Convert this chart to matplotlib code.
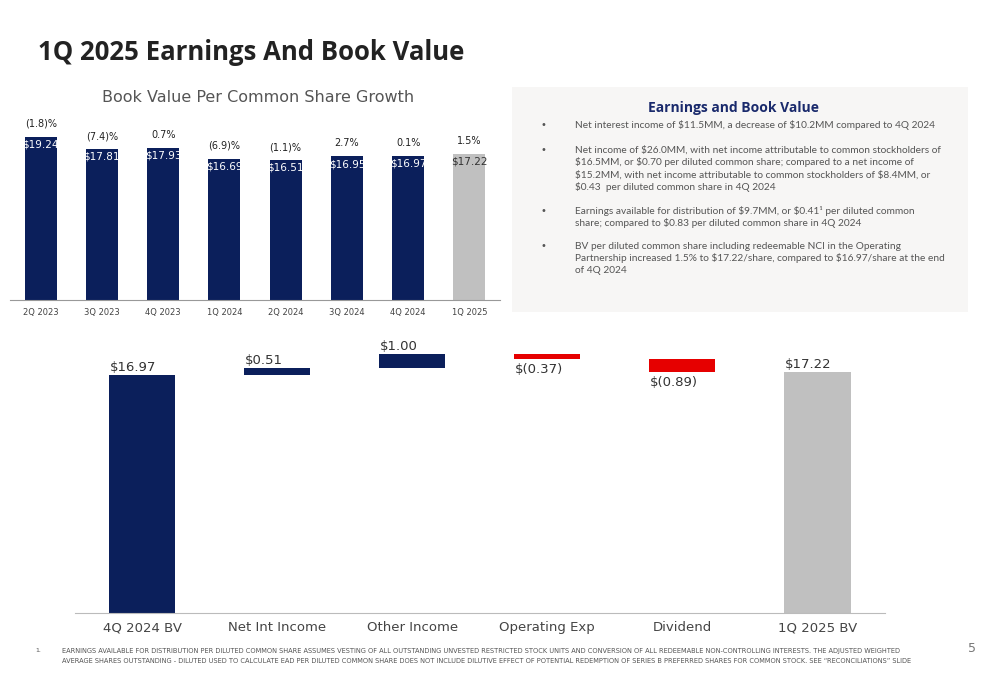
import matplotlib
matplotlib.use("Agg")
import matplotlib.pyplot as plt
from matplotlib.patches import Rectangle
plt.rcParams["text.parse_math"] = False

quarters = ["2Q 2023", "3Q 2023", "4Q 2023", "1Q 2024", "2Q 2024", "3Q 2024", "4Q 2024", "1Q 2025"]
bv = [19.24, 17.81, 17.93, 16.69, 16.51, 16.95, 16.97, 17.22]
growth = ["(1.8)%", "(7.4)%", "0.7%", "(6.9)%", "(1.1)%", "2.7%", "0.1%", "1.5%"]

wf_cats = ["4Q 2024 BV", "Net Int Income", "Other Income", "Operating Exp", "Dividend", "1Q 2025 BV"]
wf_vals = [16.97, 0.51, 1.00, -0.37, -0.89, 17.22]
wf_labels = ["$16.97", "$0.51", "$1.00", "$(0.37)", "$(0.89)", "$17.22"]

NAVY = "#0b1f5b"
GRAY = "#c0c0c0"
RED = "#e60000"
W, H = 1000, 685

fig = plt.figure(figsize=(10, 6.85), dpi=100)
fig.patch.set_facecolor("white")

def ftxt(x, y, s, **kw):
    fig.text(x / W, 1 - y / H, s, **kw)

def ax_at(x0, y0, x1, y1):
    return fig.add_axes([x0 / W, 1 - y1 / H, (x1 - x0) / W, (y1 - y0) / H])

ftxt(38, 52, "1Q 2025 Earnings And Book Value", fontsize=18.5, fontweight="bold",
     color="#222222", va="center", family="Open Sans")
ftxt(258, 97, "Book Value Per Common Share Growth", fontsize=11.5, color="#555555",
     va="center", ha="center", family="DejaVu Sans")

# text panel
fig.patches.append(Rectangle((512 / W, 1 - 312 / H), 456 / W, 225 / H,
                             transform=fig.transFigure, facecolor="#f7f6f5", edgecolor="none"))
ftxt(733, 108, "Earnings and Book Value", fontsize=10, fontweight="bold",
     color="#1a2a6c", ha="center", va="center", family="Open Sans")
bullets = [
    (125, ["Net interest income of $11.5MM, a decrease of $10.2MM compared to 4Q 2024"]),
    (150, ["Net income of $26.0MM, with net income attributable to common stockholders of",
           "$16.5MM, or $0.70 per diluted common share; compared to a net income of",
           "$15.2MM, with net income attributable to common stockholders of $8.4MM, or",
           "$0.43  per diluted common share in 4Q 2024"]),
    (211, ["Earnings available for distribution of $9.7MM, or $0.41\u00b9 per diluted common",
           "share; compared to $0.83 per diluted common share in 4Q 2024"]),
    (246, ["BV per diluted common share including redeemable NCI in the Operating",
           "Partnership increased 1.5% to $17.22/share, compared to $16.97/share at the end",
           "of 4Q 2024"]),
]
for y, lines in bullets:
    ftxt(540, y, "\u2022", fontsize=7, color="#555555", va="center")
    for i, l in enumerate(lines):
        ftxt(575, y + i * 12.3, l, fontsize=7.3, color="#555555", va="center", family="Lato")

# top bar chart
ax1 = ax_at(10, 120, 500, 300)
x = list(range(len(bv)))
cols = [NAVY] * (len(bv) - 1) + [GRAY]
ax1.bar(x, bv, width=0.52, color=cols)
ax1.set_xlim(-0.5, len(bv) - 0.5)
ax1.set_ylim(0, 21.25)
for i, v in enumerate(bv):
    ax1.text(i, v - 0.9, f"${v:.2f}", ha="center", va="center", fontsize=7.5,
             color="white" if i < len(bv) - 1 else "#333333")
    ax1.text(i, v + 1.55, growth[i], ha="center", va="center", fontsize=7, color="#222222")
ax1.set_xticks(x)
ax1.set_xticklabels(quarters, fontsize=6, color="#444444")
ax1.tick_params(length=0, pad=6)
ax1.set_yticks([])
for s in ["top", "right", "left"]:
    ax1.spines[s].set_visible(False)
ax1.spines["bottom"].set_color("#999999")
ax1.patch.set_alpha(0)

# waterfall
ax2 = ax_at(74.5, 330, 885, 613)
bottoms, heights, colors = [], [], []
level = 0.0
for i, v in enumerate(wf_vals):
    if i == 0 or i == len(wf_vals) - 1:
        bottoms.append(0); heights.append(v); colors.append(NAVY if i == 0 else GRAY)
        level = v
    else:
        if v >= 0:
            bottoms.append(level); heights.append(v); colors.append(NAVY)
        else:
            bottoms.append(level + v); heights.append(-v); colors.append(RED)
        level += v
xw = list(range(len(wf_vals)))
ax2.bar(xw, heights, bottom=bottoms, width=0.49, color=colors)
for i, v in enumerate(wf_vals):
    top = bottoms[i] + heights[i]
    if v >= 0:
        ax2.text(i - 0.24, top + 0.55, wf_labels[i], ha="left", va="center", fontsize=9.5, color="#333333")
    else:
        ax2.text(i - 0.24, bottoms[i] - 0.75, wf_labels[i], ha="left", va="center", fontsize=9.5, color="#333333")
ax2.set_xlim(-0.5, len(wf_vals) - 0.5)
ax2.set_ylim(0, 20.2)
ax2.set_xticks(xw)
ax2.set_xticklabels(wf_cats, fontsize=9.5, color="#444444")
ax2.tick_params(length=0, pad=6)
ax2.set_yticks([])
for s in ["top", "right", "left"]:
    ax2.spines[s].set_visible(False)
ax2.spines["bottom"].set_color("#bbbbbb")
ax2.patch.set_alpha(0)

ftxt(35, 651, "1.", fontsize=4.5, color="#555555", va="center")
ftxt(62, 651, "EARNINGS AVAILABLE FOR DISTRIBUTION PER DILUTED COMMON SHARE ASSUMES VESTING OF ALL OUTSTANDING UNVESTED RESTRICTED STOCK UNITS AND CONVERSION OF ALL REDEEMABLE NON-CONTROLLING INTERESTS. THE ADJUSTED WEIGHTED",
     fontsize=4.75, color="#555555", va="center")
ftxt(62, 661, "AVERAGE SHARES OUTSTANDING - DILUTED USED TO CALCULATE EAD PER DILUTED COMMON SHARE DOES NOT INCLUDE DILUTIVE EFFECT OF POTENTIAL REDEMPTION OF SERIES B PREFERRED SHARES FOR COMMON STOCK. SEE \u201cRECONCILIATIONS\u201d SLIDE",
     fontsize=4.75, color="#555555", va="center")
ftxt(968, 649, "5", fontsize=9, color="#777777", va="center")

fig.savefig("out.png", dpi=100)
